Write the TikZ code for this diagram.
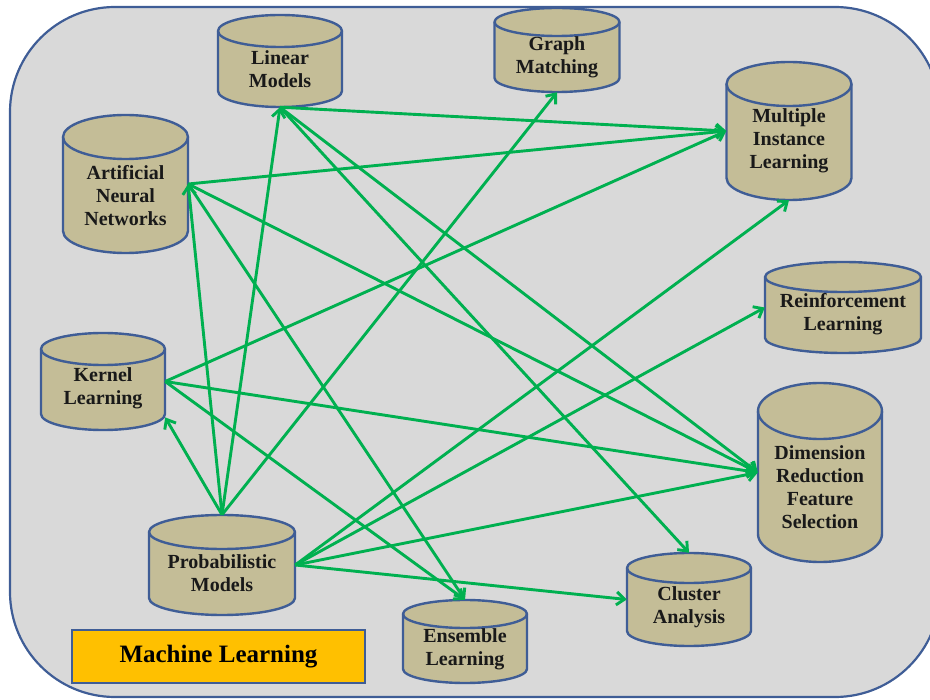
\documentclass[tikz,border=0pt]{standalone}
\usepackage{fontspec}
\setmainfont{Liberation Serif}
\usetikzlibrary{arrows.meta}
\definecolor{bgfill}{RGB}{217,217,217}
\definecolor{bdblue}{RGB}{63,93,150}
\definecolor{tan}{RGB}{196,189,151}
\definecolor{arrgreen}{RGB}{0,176,80}
\definecolor{mlgold}{RGB}{255,192,0}
\tikzset{
  cylbody/.style={fill=tan, draw=bdblue, line width=2.4pt, line join=round},
  cylline/.style={draw=bdblue, line width=2.4pt},
  cylnode/.style={draw=none, inner sep=0pt, rectangle},
  cyltext/.style={align=center, font=\fontsize{20}{23}\selectfont\bfseries, text=black!90, inner sep=0pt},
  arr/.style={draw=arrgreen, line width=2.9pt, -{Straight Barb[length=8pt,width=13pt]}},
}
% name, cx, top, bottom, halfwidth, ry, text center y, text
\newcommand\mycyl[8]{%
  \filldraw[cylbody] ({#2-#5},{#3+#6}) -- ({#2-#5},{#4-#6})
     arc[start angle=180,end angle=360,x radius=#5pt,y radius=#6pt]
     -- ({#2+#5},{#3+#6})
     arc[start angle=0,end angle=180,x radius=#5pt,y radius=#6pt] -- cycle;
  \draw[cylline] ({#2-#5},{#3+#6}) arc[start angle=180,end angle=360,x radius=#5pt,y radius=#6pt];
  \pgfmathsetmacro\cw{2*#5}\pgfmathsetmacro\ch{#4-#3}\pgfmathsetmacro\cy{(#3+#4)/2}
  \node[cylnode, minimum width=\cw pt, minimum height=\ch pt] (#1) at (#2,\cy) {};
  \node[cyltext] (#1-t) at (#2,#7) {#8};
}
\begin{document}
\begin{tikzpicture}[x=1pt,y=-1pt]
\useasboundingbox (0,0) rectangle (930,700);
\clip (0,0) rectangle (930,700);
\draw[fill=bgfill, draw=bdblue, line width=2.2pt, rounded corners=105pt] (10,7) rectangle (940,697);

\mycyl{lm}{280}{15}{107}{62}{16}{69}{Linear\\Models}
\mycyl{ann}{125.5}{115}{253}{62.5}{22}{196}{Artificial\\Neural\\Networks}
\mycyl{gm}{557}{8}{92}{62.5}{14}{57}{Graph\\Matching}
\mycyl{mil}{789}{62}{200}{62.5}{22}{141}{Multiple\\Instance\\Learning}
\mycyl{rl}{843}{262}{353}{78}{15}{314}{Reinforcement\\Learning}
\mycyl{dr}{820}{383}{562}{62}{28}{487}{Dimension\\Reduction\\Feature\\Selection}
\mycyl{ca}{689}{553}{646}{62}{15}{607}{Cluster\\Analysis}
\mycyl{ens}{465}{600}{683}{62}{14}{649}{Ensemble\\Learning}
\mycyl{kl}{103}{333}{430}{62}{16}{388}{Kernel\\Learning}
\mycyl{prob}{222}{515}{615}{73}{17}{573}{Probabilistic\\Models}

\node[draw=bdblue, fill=mlgold, line width=2pt, minimum width=293pt, minimum height=53pt, inner sep=0pt,
      font=\fontsize{25}{28}\selectfont\bfseries] (ml) at (218.5,656.5) {Machine Learning};

% connectors
\draw[arr] (lm.south) -- (mil.west);
\draw[arr] (lm.south) -- (dr.west);
\draw[arr] (lm.south) -- (ca.north);
\draw[arr] (prob.north) -- (lm.south);
\draw[arr] (ann.east) -- (mil.west);
\draw[arr] (ann.east) -- (dr.west);
\draw[arr] (ann.east) -- (ens.north);
\draw[arr] (prob.north) -- (ann.east);
\draw[arr] (kl.east) -- (mil.west);
\draw[arr] (kl.east) -- (dr.west);
\draw[arr] (kl.east) -- (ens.north);
\draw[arr] (prob.north) -- (kl.-30);
\draw[arr] (prob.north) -- (gm.south);
\draw[arr] (prob.east) -- (mil.south);
\draw[arr] (prob.east) -- (rl.west);
\draw[arr] (prob.east) -- (dr.west);
\draw[arr] (prob.east) -- (ca.west);
\end{tikzpicture}
\end{document}
